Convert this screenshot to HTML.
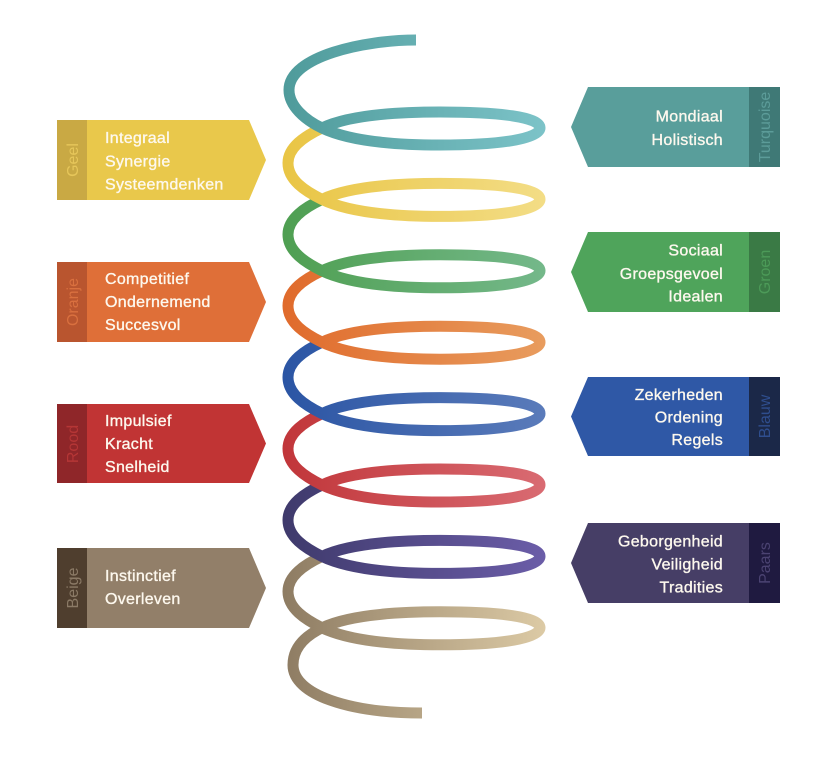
<!DOCTYPE html>
<html><head><meta charset="utf-8"><style>
html,body{margin:0;padding:0;background:#fff;}
svg{display:block;}
text{font-family:"Liberation Sans",sans-serif;font-size:16px;}
.t{fill:#fdf8ee;stroke:#fdf8ee;stroke-width:0.35px;letter-spacing:0.3px;}
</style></head><body>
<svg width="837" height="757" viewBox="0 0 837 757" xmlns="http://www.w3.org/2000/svg">
<defs>
<linearGradient id="g0" gradientUnits="userSpaceOnUse" x1="285" y1="0" x2="545" y2="0"><stop offset="0" stop-color="#4f9b9b"/><stop offset="1" stop-color="#7cc3c8"/></linearGradient>
<linearGradient id="g1" gradientUnits="userSpaceOnUse" x1="285" y1="0" x2="545" y2="0"><stop offset="0" stop-color="#e9c545"/><stop offset="1" stop-color="#f3dd86"/></linearGradient>
<linearGradient id="g2" gradientUnits="userSpaceOnUse" x1="285" y1="0" x2="545" y2="0"><stop offset="0" stop-color="#4f9f52"/><stop offset="1" stop-color="#74b88a"/></linearGradient>
<linearGradient id="g3" gradientUnits="userSpaceOnUse" x1="285" y1="0" x2="545" y2="0"><stop offset="0" stop-color="#e06b2c"/><stop offset="1" stop-color="#e89c5e"/></linearGradient>
<linearGradient id="g4" gradientUnits="userSpaceOnUse" x1="285" y1="0" x2="545" y2="0"><stop offset="0" stop-color="#2b55a4"/><stop offset="1" stop-color="#5a7bba"/></linearGradient>
<linearGradient id="g5" gradientUnits="userSpaceOnUse" x1="285" y1="0" x2="545" y2="0"><stop offset="0" stop-color="#c1363a"/><stop offset="1" stop-color="#d96b72"/></linearGradient>
<linearGradient id="g6" gradientUnits="userSpaceOnUse" x1="285" y1="0" x2="545" y2="0"><stop offset="0" stop-color="#3f3a6c"/><stop offset="1" stop-color="#6b5da8"/></linearGradient>
<linearGradient id="g7" gradientUnits="userSpaceOnUse" x1="285" y1="0" x2="545" y2="0"><stop offset="0" stop-color="#8e7c63"/><stop offset="1" stop-color="#dccaa5"/></linearGradient>
</defs>

<g fill="none" stroke-width="11">
<path stroke="url(#g7)" d="M322,556.4 C305,564.4 288,575.4 288,591.4 C288,608.4 305,619.4 322,627.8 C345,638.8 385,644.8 440,644.8 C500,644.8 540,638.8 540,627.8 C540,616.8 500,611.8 440,611.8 C385,611.8 345,616.8 322,627.8 C305,636 293,648 293,665 C293,695 350,713 422,713"/>
<path stroke="url(#g6)" d="M322,485 C305,493 288,504 288,520 C288,537 305,548 322,556.4 C345,567.4 385,573.4 440,573.4 C500,573.4 540,567.4 540,556.4 C540,545.4 500,540.4 440,540.4 C385,540.4 345,545.4 322,556.4"/>
<path stroke="url(#g5)" d="M322,413.6 C305,421.6 288,432.6 288,448.6 C288,465.6 305,476.6 322,485 C345,496 385,502 440,502 C500,502 540,496 540,485 C540,474 500,469 440,469 C385,469 345,474 322,485"/>
<path stroke="url(#g4)" d="M322,342.2 C305,350.2 288,361.2 288,377.2 C288,394.2 305,405.2 322,413.6 C345,424.6 385,430.6 440,430.6 C500,430.6 540,424.6 540,413.6 C540,402.6 500,397.6 440,397.6 C385,397.6 345,402.6 322,413.6"/>
<path stroke="url(#g3)" d="M322,270.8 C305,278.8 288,289.8 288,305.8 C288,322.8 305,333.8 322,342.2 C345,353.2 385,359.2 440,359.2 C500,359.2 540,353.2 540,342.2 C540,331.2 500,326.2 440,326.2 C385,326.2 345,331.2 322,342.2"/>
<path stroke="url(#g2)" d="M322,199.4 C305,207.4 288,218.4 288,234.4 C288,251.4 305,262.4 322,270.8 C345,281.8 385,287.8 440,287.8 C500,287.8 540,281.8 540,270.8 C540,259.8 500,254.8 440,254.8 C385,254.8 345,259.8 322,270.8"/>
<path stroke="url(#g1)" d="M322,128 C305,136 288,147 288,163 C288,180 305,191 322,199.4 C345,210.4 385,216.4 440,216.4 C500,216.4 540,210.4 540,199.4 C540,188.4 500,183.4 440,183.4 C385,183.4 345,188.4 322,199.4"/>
<path stroke="url(#g0)" d="M416,40 C365,40 289,56 289,90 C289,106 305,120 322,128 C345,139 385,145 440,145 C500,145 540,139 540,128 C540,117 500,112 440,112 C385,112 345,117 322,128"/>
</g>

<polygon points="57,120 249,120 266,160 249,200 57,200" fill="#e9c84b"/>
<rect x="57" y="120" width="30" height="80" fill="#c9a944"/>
<text transform="translate(78,160) rotate(-90)" text-anchor="middle" fill="#e6c65a">Geel</text>
<text class="t" x="105" y="143">Integraal</text>
<text class="t" x="105" y="166.5">Synergie</text>
<text class="t" x="105" y="189.5">Systeemdenken</text>

<polygon points="57,262 249,262 266,302 249,342 57,342" fill="#df6f38"/>
<rect x="57" y="262" width="30" height="80" fill="#b9552f"/>
<text transform="translate(78,302) rotate(-90)" text-anchor="middle" fill="#d9703f">Oranje</text>
<text class="t" x="105" y="284">Competitief</text>
<text class="t" x="105" y="307">Ondernemend</text>
<text class="t" x="105" y="330">Succesvol</text>

<polygon points="57,404 249,404 266,443.5 249,483 57,483" fill="#c13434"/>
<rect x="57" y="404" width="30" height="79" fill="#8f2629"/>
<text transform="translate(78,444) rotate(-90)" text-anchor="middle" fill="#b53636">Rood</text>
<text class="t" x="105" y="426">Impulsief</text>
<text class="t" x="105" y="449">Kracht</text>
<text class="t" x="105" y="472">Snelheid</text>

<polygon points="57,548 249,548 266,588 249,628 57,628" fill="#927f69"/>
<rect x="57" y="548" width="30" height="80" fill="#4f3e2e"/>
<text transform="translate(78,588) rotate(-90)" text-anchor="middle" fill="#8b7a66">Beige</text>
<text class="t" x="105" y="581">Instinctief</text>
<text class="t" x="105" y="604">Overleven</text>

<polygon points="571,127 588,87 780,87 780,167 588,167" fill="#599e9b"/>
<rect x="749" y="87" width="31" height="80" fill="#3f7976"/>
<text transform="translate(770,127) rotate(-90)" text-anchor="middle" fill="#5c9c99">Turquoise</text>
<text class="t" x="723" y="121.7" text-anchor="end">Mondiaal</text>
<text class="t" x="723" y="145" text-anchor="end">Holistisch</text>

<polygon points="571,272 588,232 780,232 780,312 588,312" fill="#4fa45b"/>
<rect x="749" y="232" width="31" height="80" fill="#3a7a45"/>
<text transform="translate(770,272) rotate(-90)" text-anchor="middle" fill="#4c9a58">Groen</text>
<text class="t" x="723" y="255.7" text-anchor="end">Sociaal</text>
<text class="t" x="723" y="279" text-anchor="end">Groepsgevoel</text>
<text class="t" x="723" y="301.7" text-anchor="end">Idealen</text>

<polygon points="571,416.5 588,377 780,377 780,456 588,456" fill="#2f58a6"/>
<rect x="749" y="377" width="31" height="79" fill="#1b2848"/>
<text transform="translate(770,416.5) rotate(-90)" text-anchor="middle" fill="#2f4e8e">Blauw</text>
<text class="t" x="723" y="400" text-anchor="end">Zekerheden</text>
<text class="t" x="723" y="422.7" text-anchor="end">Ordening</text>
<text class="t" x="723" y="445" text-anchor="end">Regels</text>

<polygon points="571,563 588,523 780,523 780,603 588,603" fill="#463e66"/>
<rect x="749" y="523" width="31" height="80" fill="#1f1a40"/>
<text transform="translate(770,563) rotate(-90)" text-anchor="middle" fill="#4b4372">Paars</text>
<text class="t" x="723" y="546.7" text-anchor="end">Geborgenheid</text>
<text class="t" x="723" y="569.3" text-anchor="end">Veiligheid</text>
<text class="t" x="723" y="592.3" text-anchor="end">Tradities</text>
</svg>
</body></html>
